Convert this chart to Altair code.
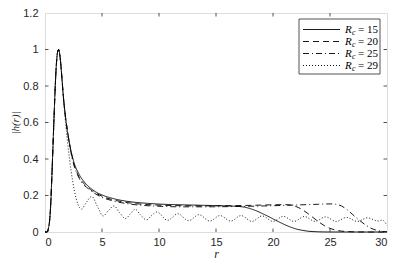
import altair as alt
import pandas as pd

# ---- data ----
labels = ["Rc = 15", "Rc = 20", "Rc = 25", "Rc = 29"]
legend_nums = ["15", "20", "25", "29"]
dashes = [[1, 0], [6, 4], [6, 3, 1, 3], [1, 2]]

head_r = [0, 0.2, 0.3, 0.4, 0.5, 0.6, 0.7, 0.8, 0.9, 1.0, 1.1, 1.2, 1.3, 1.4, 1.5, 1.6]
head_h = [0, 0.0, 0.02, 0.06, 0.15, 0.3, 0.47, 0.64, 0.8, 0.92, 0.985, 1.0, 0.97, 0.91, 0.83, 0.75]

r15 = [1.8, 2.0, 2.2, 2.5, 3.0, 3.5, 4, 4.5, 5, 6, 7, 8, 9, 10, 12, 14, 16, 17, 17.5, 18, 18.5,
       19, 19.5, 20, 20.5, 21, 21.5, 22, 22.5, 23, 24, 25, 30]
h15 = [0.63, 0.54, 0.47, 0.39, 0.315, 0.27, 0.24, 0.218, 0.203, 0.183, 0.17, 0.162, 0.157, 0.153,
       0.149, 0.146, 0.143, 0.14, 0.136, 0.128, 0.117, 0.103, 0.088, 0.072, 0.056, 0.041, 0.028,
       0.017, 0.01, 0.005, 0.001, 0.0, 0.0]

r20 = [1.8, 2.0, 2.2, 2.5, 3.0, 3.5, 4, 5, 6, 7, 8, 10, 12, 14, 16, 18, 20, 21, 21.5, 22, 22.5,
       23, 23.5, 24, 24.5, 25, 25.5, 26, 27, 28, 30]
h20 = [0.63, 0.54, 0.465, 0.38, 0.3, 0.26, 0.232, 0.196, 0.176, 0.163, 0.155, 0.147, 0.144, 0.143,
       0.144, 0.146, 0.149, 0.15, 0.148, 0.14, 0.125, 0.104, 0.08, 0.056, 0.035, 0.02, 0.01, 0.005,
       0.001, 0.0, 0.0]

r25 = [1.8, 2.0, 2.2, 2.5, 3.0, 4, 5, 6, 7, 8, 10, 12, 14, 16, 18, 20, 22, 24, 25, 25.5, 26,
       26.5, 27, 27.5, 28, 28.5, 29, 29.5, 30]
h25 = [0.63, 0.54, 0.462, 0.375, 0.295, 0.228, 0.19, 0.17, 0.157, 0.149, 0.141, 0.138, 0.138,
       0.139, 0.141, 0.144, 0.148, 0.152, 0.154, 0.152, 0.143, 0.122, 0.095, 0.068, 0.044, 0.024,
       0.011, 0.004, 0.001]

r29 = [1.8, 2.0, 2.3, 2.6, 2.9, 3.2, 3.6, 4.1, 4.6, 5.1, 5.6, 6.05, 6.55, 7.05, 7.5, 7.9, 8.4,
       8.9, 9.35, 9.8, 10.75, 11.65, 12.6, 13.5, 14.45, 15.35, 16.3, 17.2, 18.15, 19.05, 20.0,
       20.9, 21.85, 22.75, 23.7, 24.6, 25.55, 26.45, 27.4, 28.3, 29.2, 29.6, 30]
h29 = [0.6, 0.48, 0.33, 0.22, 0.15, 0.125, 0.16, 0.195, 0.14, 0.088, 0.12, 0.143, 0.105, 0.074,
       0.1, 0.125, 0.092, 0.066, 0.09, 0.11, 0.064, 0.1, 0.062, 0.095, 0.06, 0.09, 0.06, 0.09,
       0.058, 0.088, 0.058, 0.086, 0.058, 0.085, 0.058, 0.083, 0.058, 0.08, 0.058, 0.078, 0.06,
       0.065, 0.035]

x_ticks = [0, 5, 10, 15, 20, 25, 30]
y_ticks = [0, 0.2, 0.4, 0.6, 0.8, 1.0, 1.2]

# ---- build table ----
rows = []
for lab, rr, hh in zip(labels, [r15, r20, r25, r29], [h15, h20, h25, h29]):
    for r, h in zip(head_r + rr, head_h + hh):
        rows.append({"series": lab, "r": r, "h": h})
df = pd.DataFrame(rows)

W, H = 342, 219
INK = "#262626"

xscale = alt.Scale(domain=[0, 30], nice=False, zero=False)
yscale = alt.Scale(domain=[0, 1.2], nice=False)

xaxis = alt.Axis(values=x_ticks, grid=False, ticks=False, domain=False, labelOverlap=False,
                 labelFont="Liberation Sans", labelFontSize=11, labelColor=INK,
                 labelPadding=4, title="r", titleFont="Liberation Serif",
                 titleFontStyle="italic", titleFontWeight="normal", titleFontSize=12,
                 titleColor=INK, titlePadding=1)
yaxis = alt.Axis(values=y_ticks, format=".1~f", grid=False, ticks=False, domain=False,
                 labelOverlap=False,
                 labelFont="Liberation Sans", labelFontSize=11, labelColor=INK,
                 labelPadding=7, title="|h(r)|", titleFont="Liberation Serif",
                 titleFontStyle="italic", titleFontWeight="normal", titleFontSize=11,
                 titleColor=INK, titlePadding=2)

lines = alt.Chart(df).mark_line(color="black", strokeWidth=0.9, interpolate="monotone").encode(
    x=alt.X("r:Q", scale=xscale, axis=xaxis),
    y=alt.Y("h:Q", scale=yscale, axis=yaxis),
    strokeDash=alt.StrokeDash("series:N", scale=alt.Scale(domain=labels, range=dashes), legend=None),
    detail="series:N",
)

tl = 3.5
xt = pd.DataFrame({"r": x_ticks[1:-1]})
yt = pd.DataFrame({"h": y_ticks[1:-1]})
tick_b = alt.Chart(xt).mark_rule(color=INK, strokeWidth=0.8).encode(
    x=alt.X("r:Q", scale=xscale, axis=xaxis), y=alt.value(H), y2=alt.value(H - tl))
tick_t = alt.Chart(xt).mark_rule(color=INK, strokeWidth=0.8).encode(
    x=alt.X("r:Q", scale=xscale, axis=xaxis), y=alt.value(0), y2=alt.value(tl))
tick_l = alt.Chart(yt).mark_rule(color=INK, strokeWidth=0.8).encode(
    y=alt.Y("h:Q", scale=yscale, axis=yaxis), x=alt.value(0), x2=alt.value(tl))
tick_r = alt.Chart(yt).mark_rule(color=INK, strokeWidth=0.8).encode(
    y=alt.Y("h:Q", scale=yscale, axis=yaxis), x=alt.value(W), x2=alt.value(W - tl))

one = pd.DataFrame({"a": [0]})
legend_layers = [
    alt.Chart(one).mark_rect(fill="white", stroke=INK, strokeWidth=0.8).encode(
        x=alt.value(254), x2=alt.value(335), y=alt.value(6), y2=alt.value(61))
]
for i, (num, dash) in enumerate(zip(legend_nums, dashes)):
    yy = 16.5 + i * 12
    legend_layers.append(alt.Chart(one).mark_rule(color="black", strokeWidth=0.9, strokeDash=dash).encode(
        x=alt.value(258), x2=alt.value(295), y=alt.value(yy)))
    legend_layers.append(alt.Chart(one).mark_text(text="R", font="Liberation Serif", fontStyle="italic",
                                                  fontSize=11, align="left", baseline="middle",
                                                  color="black").encode(
        x=alt.value(300), y=alt.value(yy)))
    legend_layers.append(alt.Chart(one).mark_text(text="c", font="Liberation Serif", fontStyle="italic",
                                                  fontSize=8, align="left", baseline="middle",
                                                  color="black").encode(
        x=alt.value(307), y=alt.value(yy + 3)))
    legend_layers.append(alt.Chart(one).mark_text(text="= " + num, font="Liberation Serif",
                                                  fontSize=11, align="left", baseline="middle",
                                                  color="black").encode(
        x=alt.value(313), y=alt.value(yy)))

chart = alt.layer(lines, tick_b, tick_t, tick_l, tick_r, *legend_layers).properties(
    width=W, height=H,
    autosize=alt.AutoSizeParams(type="none"),
    padding={"left": 37, "top": 5, "right": 12, "bottom": 32},
).configure_view(stroke=INK, strokeWidth=0.8).configure(background="white")

chart.save("out.html", embed_options={"renderer": "svg", "actions": False})
